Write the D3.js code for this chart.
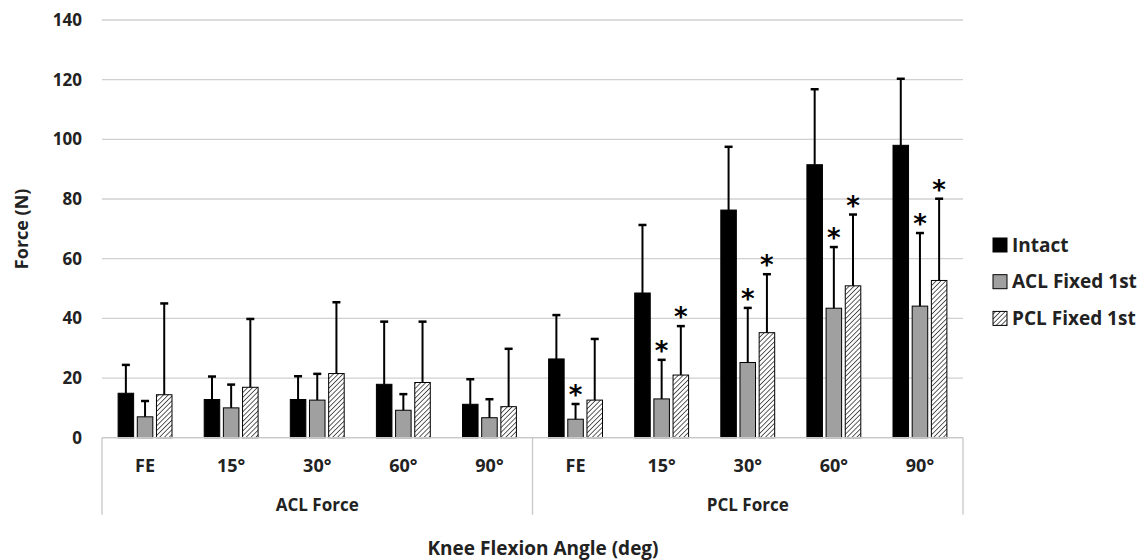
<!DOCTYPE html>
<html>
<head>
<meta charset="utf-8">
<script src="https://cdn.jsdelivr.net/npm/d3@7"></script>
<style>
  body { margin: 0; background: #fff; }
  svg text { font-family: "Open Sans", sans-serif; font-weight: 700; fill: #222; }
</style>
</head>
<body>
<div id="chart"></div>
<script>
// Données
const angles = ["FE", "15°", "30°", "60°", "90°"];
const groups = ["ACL Force", "PCL Force"];
const series = ["Intact", "ACL Fixed 1st", "PCL Fixed 1st"];
const yTicks = [0, 20, 40, 60, 80, 100, 120, 140];

// moyennes (N), 5 angles ACL puis 5 angles PCL
const intactMean = [14.9, 12.8, 12.8, 17.9, 11.2, 26.4, 48.5, 76.3, 91.5, 98.0];
const intactSD   = [9.5, 7.7, 7.8, 21.0, 8.4, 14.7, 22.8, 21.2, 25.3, 22.3];
const aclMean    = [7.0, 10.0, 12.6, 9.2, 6.7, 6.2, 13.0, 25.2, 43.4, 44.1];
const aclSD      = [5.3, 7.8, 8.8, 5.4, 6.2, 5.1, 13.1, 18.3, 20.5, 24.5];
const pclMean    = [14.4, 16.9, 21.5, 18.5, 10.4, 12.6, 21.0, 35.2, 50.9, 52.7];
const pclSD      = [30.6, 22.9, 23.9, 20.4, 19.4, 20.5, 16.4, 19.6, 23.9, 27.4];
// différence significative (*)
const intactSig  = [0, 0, 0, 0, 0, 0, 0, 0, 0, 0];
const aclSig     = [0, 0, 0, 0, 0, 1, 1, 1, 1, 1];
const pclSig     = [0, 0, 0, 0, 0, 0, 1, 1, 1, 1];

const width = 1146, height = 560;
const margin = { top: 20, right: 183, bottom: 122, left: 102 };

const svg = d3.select("#chart").append("svg")
    .attr("width", width)
    .attr("height", height);

// motif hachuré pour "PCL Fixed 1st"
const defs = svg.append("defs");
defs.append("pattern")
    .attr("id", "hatch")
    .attr("patternUnits", "userSpaceOnUse")
    .attr("width", 3.4).attr("height", 3.4)
    .attr("patternTransform", "rotate(45)")
    .call(p => {
        p.append("rect").attr("width", 3.4).attr("height", 3.4).attr("fill", "#fff");
        p.append("line").attr("x1", 0).attr("y1", 0).attr("x2", 0).attr("y2", 3.4)
            .attr("stroke", "#2a2a2a").attr("stroke-width", 1.5);
    });

const fills = ["#000", "#a0a0a0", "url(#hatch)"];
const means = [intactMean, aclMean, pclMean];
const sds = [intactSD, aclSD, pclSD];
const sigs = [intactSig, aclSig, pclSig];

// catégories à deux niveaux
const cats = [];
groups.forEach(g => angles.forEach(a => cats.push(g + "|" + a)));

const data = [];
cats.forEach((c, i) => series.forEach((s, j) => {
    data.push({ cat: c, series: s, mean: means[j][i], sd: sds[j][i], sig: sigs[j][i], fill: fills[j] });
}));

const x0 = d3.scaleBand()
    .domain(cats)
    .range([margin.left, width - margin.right])
    .padding(0);

const x1 = d3.scaleBand()
    .domain(series)
    .range([0, x0.bandwidth()])
    .paddingInner(0.19)
    .paddingOuter(0.84);

const y = d3.scaleLinear()
    .domain([0, 140])
    .range([height - margin.bottom - 0.3, margin.top]);

// Grille horizontale
svg.append("g")
    .selectAll("line")
    .data(yTicks)
    .join("line")
    .attr("x1", margin.left)
    .attr("x2", width - margin.right)
    .attr("y1", d => y(d))
    .attr("y2", d => y(d))
    .attr("stroke", "#d0d0d0")
    .attr("stroke-width", 1.3);

// Axe Y
const yAxis = svg.append("g")
    .attr("transform", `translate(${margin.left},0)`)
    .call(d3.axisLeft(y).tickValues(yTicks).tickSize(0).tickPadding(20));
yAxis.select(".domain").remove();
yAxis.selectAll("text")
    .style("font-size", "17px")
    .style("font-family", "'Open Sans', sans-serif")
    .style("font-weight", 700)
    .attr("fill", "#222");

// Barres
svg.append("g")
    .selectAll("rect")
    .data(data)
    .join("rect")
    .attr("x", d => x0(d.cat) + x1(d.series))
    .attr("y", d => y(d.mean))
    .attr("width", x1.bandwidth())
    .attr("height", d => y(0) - y(d.mean))
    .attr("fill", d => d.fill)
    .attr("stroke", "#000")
    .attr("stroke-width", 1);

// Barres d'erreur (vers le haut seulement)
const err = svg.append("g").attr("stroke", "#000");
err.selectAll(".stem")
    .data(data)
    .join("line")
    .attr("class", "stem")
    .attr("x1", d => x0(d.cat) + x1(d.series) + x1.bandwidth() / 2)
    .attr("x2", d => x0(d.cat) + x1(d.series) + x1.bandwidth() / 2)
    .attr("y1", d => y(d.mean))
    .attr("y2", d => y(d.mean + d.sd))
    .attr("stroke-width", 2);
err.selectAll(".cap")
    .data(data)
    .join("line")
    .attr("class", "cap")
    .attr("x1", d => x0(d.cat) + x1(d.series) + x1.bandwidth() / 2 - 4)
    .attr("x2", d => x0(d.cat) + x1(d.series) + x1.bandwidth() / 2 + 4)
    .attr("y1", d => y(d.mean + d.sd))
    .attr("y2", d => y(d.mean + d.sd))
    .attr("stroke-width", 2.5);

// Astérisques
svg.append("g")
    .selectAll("text")
    .data(data.filter(d => d.sig))
    .join("text")
    .attr("x", d => x0(d.cat) + x1(d.series) + x1.bandwidth() / 2)
    .attr("y", d => y(d.mean + d.sd) + 0)
    .attr("text-anchor", "middle")
    .style("font-family", "'DejaVu Sans', sans-serif")
    .style("font-weight", 700)
    .style("font-size", "26px")
    .style("fill", "#000")
    .text("*");

// Axe X : lignes de séparation des groupes
const baseY = y(0);
svg.append("line")
    .attr("x1", margin.left).attr("x2", width - margin.right)
    .attr("y1", baseY).attr("y2", baseY)
    .attr("stroke", "#c8c8c8").attr("stroke-width", 1.3);

const sepX = [x0(cats[0]), x0(groups[1] + "|" + angles[0]), x0(cats[cats.length - 1]) + x0.bandwidth()];
svg.append("g")
    .selectAll("line")
    .data(sepX)
    .join("line")
    .attr("x1", d => d).attr("x2", d => d)
    .attr("y1", baseY).attr("y2", baseY + 77)
    .attr("stroke", "#c8c8c8").attr("stroke-width", 1.3);

// Étiquettes des angles
svg.append("g")
    .selectAll("text")
    .data(cats)
    .join("text")
    .attr("x", d => x0(d) + x0.bandwidth() / 2)
    .attr("y", baseY + 34)
    .attr("text-anchor", "middle")
    .style("font-size", "18px")
    .text(d => d.split("|")[1]);

// Étiquettes des groupes
svg.append("g")
    .selectAll("text")
    .data(groups)
    .join("text")
    .attr("x", g => (x0(g + "|" + angles[0]) + x0(g + "|" + angles[angles.length - 1]) + x0.bandwidth()) / 2)
    .attr("y", baseY + 73)
    .attr("text-anchor", "middle")
    .style("font-size", "17px")
    .text(g => g);

// Titres des axes
svg.append("text")
    .attr("x", 543)
    .attr("y", 555)
    .attr("text-anchor", "middle")
    .style("font-size", "19px")
    .text("Knee Flexion Angle (deg)");

svg.append("text")
    .attr("transform", "rotate(-90)")
    .attr("x", -(y(0) + y(140)) / 2)
    .attr("y", 28)
    .attr("text-anchor", "middle")
    .style("font-size", "18px")
    .text("Force (N)");

// Légende
const legend = svg.append("g")
    .selectAll("g")
    .data(series)
    .join("g")
    .attr("transform", (d, i) => `translate(993,${245 + i * 36.7})`);
legend.append("rect")
    .attr("x", 0).attr("y", -7)
    .attr("width", 14).attr("height", 14)
    .attr("fill", (d, i) => fills[i])
    .attr("stroke", "#000")
    .attr("stroke-width", 1);
legend.append("text")
    .attr("x", 19)
    .attr("y", 0)
    .attr("dy", "0.35em")
    .style("font-size", "19px")
    .text(d => d);
</script>
</body>
</html>
